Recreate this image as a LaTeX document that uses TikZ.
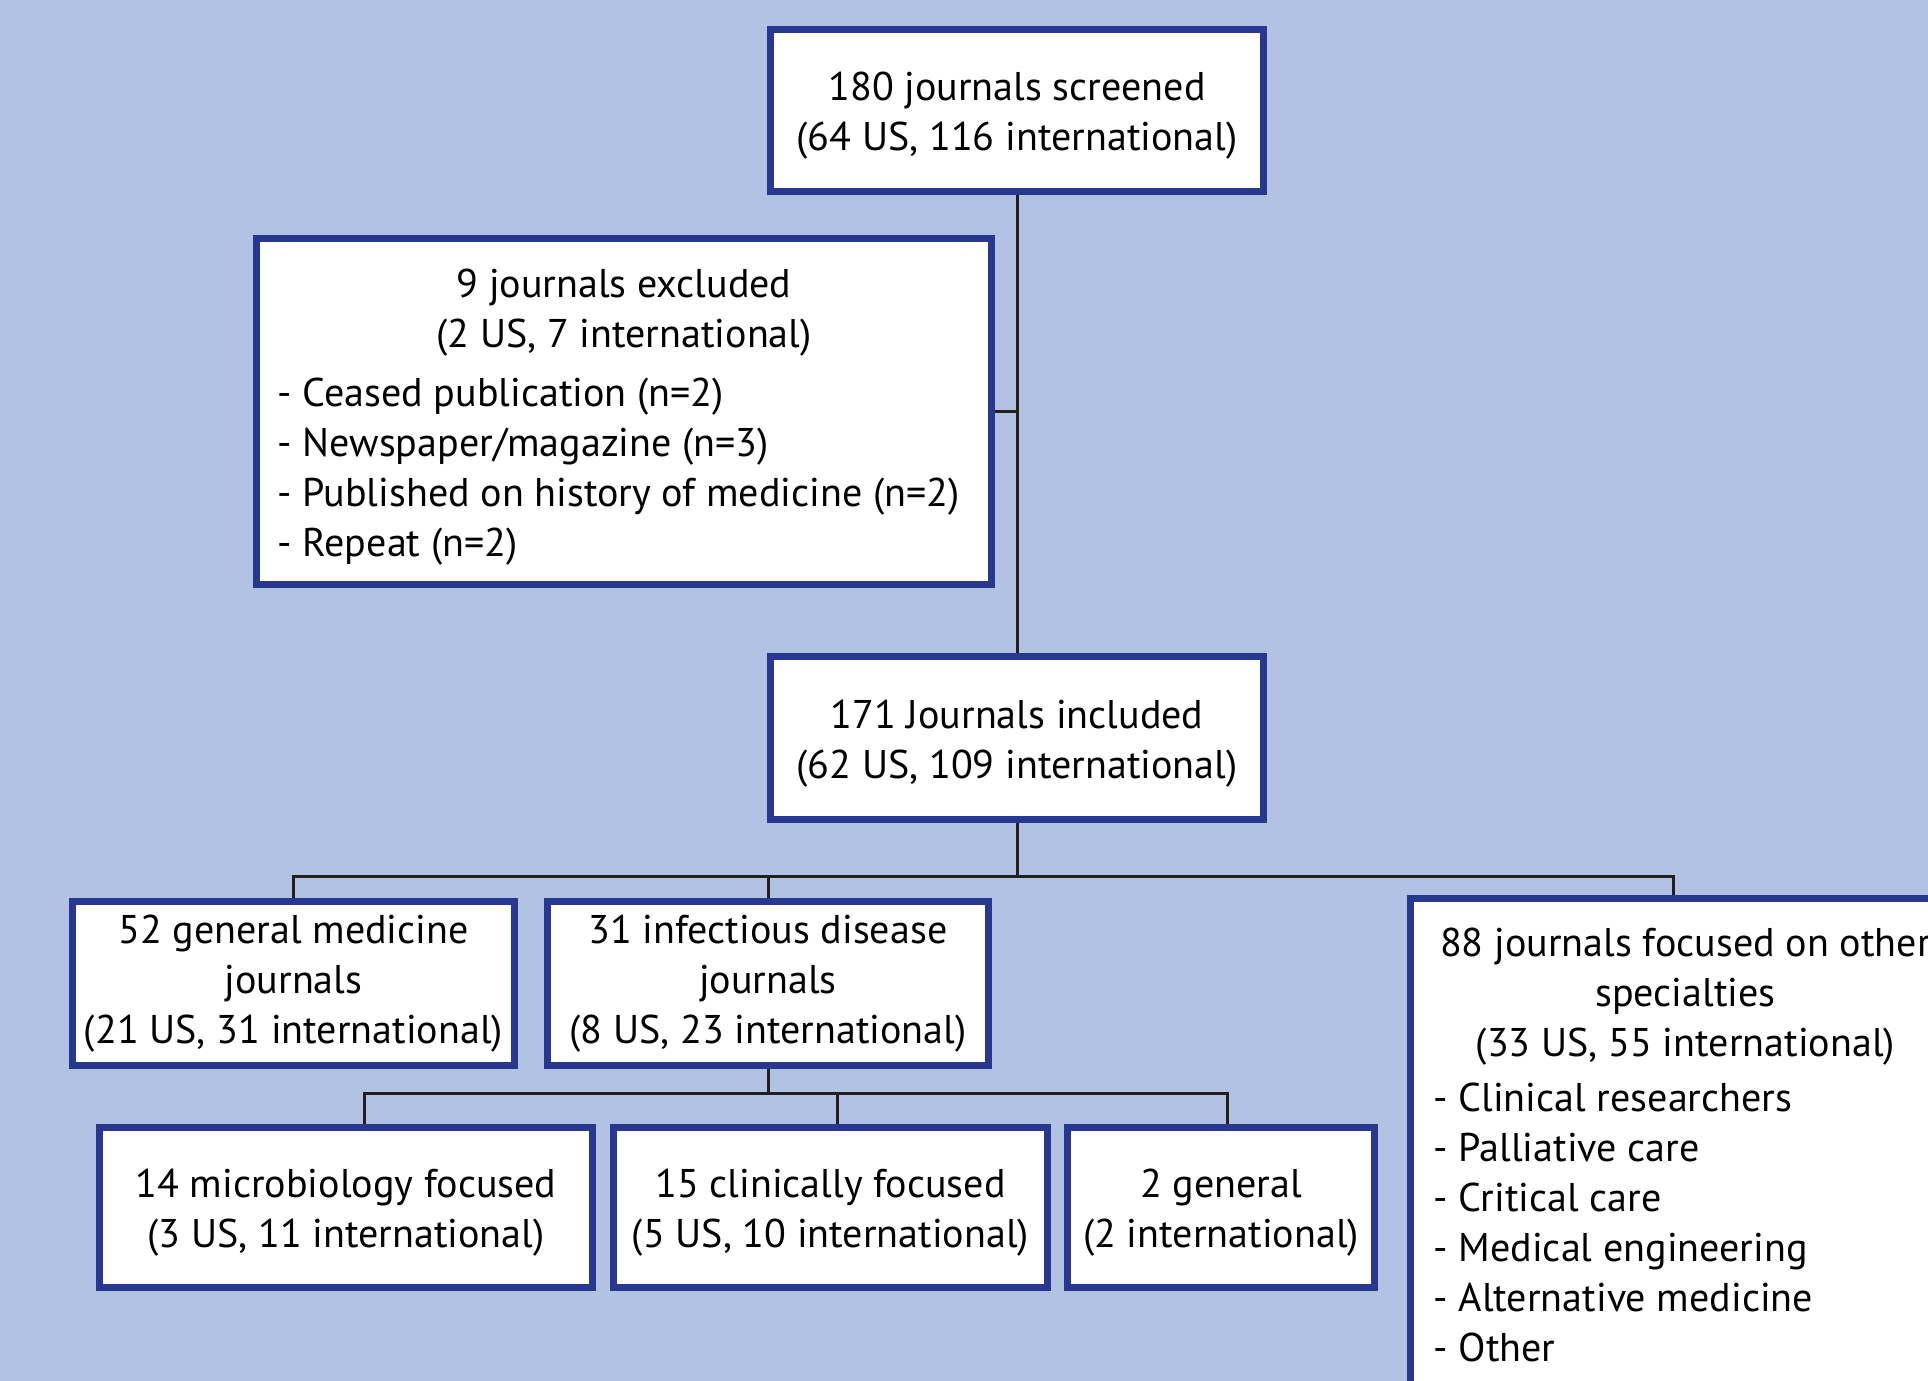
\documentclass[tikz,border=0pt]{standalone}
\usepackage{fontspec}
\setmainfont{PT Sans}
\definecolor{bgblue}{HTML}{B1C2E3}
\definecolor{boxblue}{HTML}{283891}
\definecolor{linkgray}{HTML}{231F20}
\tikzset{
	jbox/.style={draw=boxblue,line width=0.14cm,fill=white,align=center,inner sep=0pt,
		font=\fontsize{22.8}{28.45}\selectfont},
	twoline/.style={jbox,text height=1.78cm},
	link/.style={draw=linkgray,line width=0.06cm}
}

\begin{document}
\begin{tikzpicture}[x=0.02cm,y=-0.02cm]
		\useasboundingbox (0,0) rectangle (1928,1381);
		\clip (0,0) rectangle (1928,1381);
		\fill[bgblue] (0,0) rectangle (1928,1381);
		\node (screened) [twoline,minimum width=9.86cm,minimum height=3.24cm] at (1017,110.5)
			{180 journals screened\\(64 US, 116 international)};
		\node (excluded) [jbox,minimum width=14.7cm,minimum height=6.92cm] at (624,411.5)
			{\begin{tabular}{@{}p{13.86cm}@{}}
				\multicolumn{1}{@{}c@{}}{\rule{0pt}{0.92cm}9 journals excluded}\\
				\multicolumn{1}{@{}c@{}}{(2 US, 7 international)}\\[0.2cm]
				- Ceased publication (n=2)\\
				- Newspaper/magazine (n=3)\\
				- Published on history of medicine (n=2)\\
				- Repeat (n=2)
			\end{tabular}};
		\node (included) [twoline,minimum width=9.86cm,minimum height=3.26cm] at (1017,738)
			{171 Journals included\\(62 US, 109 international)};
		\node (general) [jbox,minimum width=8.84cm,minimum height=3.28cm] at (293.5,983.5)
			{52 general medicine\\journals\\(21 US, 31 international)};
		\node (infect) [jbox,minimum width=8.82cm,minimum height=3.28cm] at (768,983.5)
			{31 infectious disease\\journals\\(8 US, 23 international)};
		\node (other) [jbox,anchor=north west,inner xsep=0.47cm,inner ysep=0.45cm] at (1406.5,895.5)
			{\begin{tabular}{@{}p{10.08cm}@{}}
				\multicolumn{1}{@{}c@{}}{88 journals focused on other}\\
				\multicolumn{1}{@{}c@{}}{specialties}\\
				\multicolumn{1}{@{}c@{}}{(33 US, 55 international)}\\[0.1cm]
				- Clinical researchers\\
				- Palliative care\\
				- Critical care\\
				- Medical engineering\\
				- Alternative medicine\\
				- Other\\[2cm]
			\end{tabular}};
		\node (micro) [twoline,minimum width=9.86cm,minimum height=3.2cm] at (346,1207.5)
			{14 microbiology focused\\(3 US, 11 international)};
		\node (clinic) [twoline,minimum width=8.68cm,minimum height=3.2cm] at (830.5,1207.5)
			{15 clinically focused\\(5 US, 10 international)};
		\node (gen2) [twoline,minimum width=6.14cm,minimum height=3.2cm] at (1221,1207.5)
			{2 general\\(2 international)};
		\coordinate (busl) at (293.5,877);
		\coordinate (busr) at (1673,877);
		\coordinate (subl) at (364,1093);
		\coordinate (subm) at (837,1093);
		\coordinate (subr) at (1227,1093);
		\draw[link] (screened) -- (included);
		\draw[link] (excluded.east) -- (excluded.east -| screened.south);
		\draw[link] (included.south) -- (included.south |- busl);
		\draw[link] (general.north) -- (busl) -- (busr) -- (busr |- other.north);
		\draw[link] (infect.north) -- (infect.north |- busl);
		\draw[link] (infect.south) -- (infect.south |- subl);
		\draw[link] (subl |- micro.north) -- (subl) -- (subr) -- (subr |- gen2.north);
		\draw[link] (subm) -- (subm |- clinic.north);
\end{tikzpicture}
\end{document}
